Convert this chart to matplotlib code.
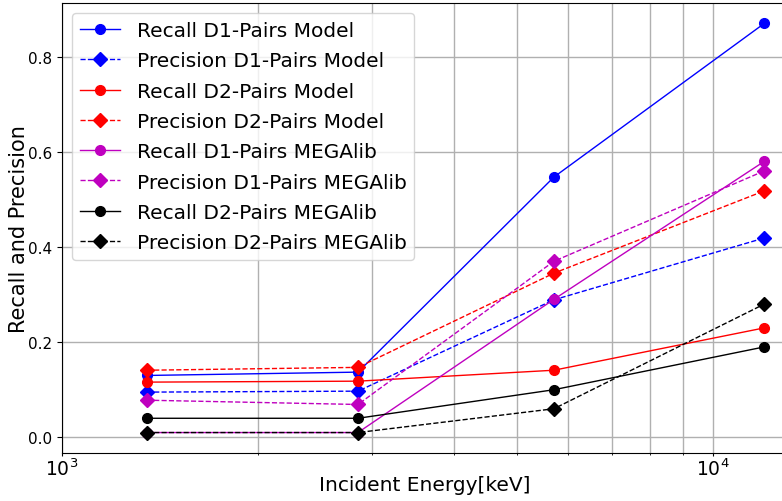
import numpy as np
import matplotlib
matplotlib.use("Agg")
import matplotlib.pyplot as plt

# incident energies (keV)
energy = [1350, 2850, 5700, 12000]

recall_d1_model = [0.130, 0.137, 0.547, 0.870]
precision_d1_model = [0.095, 0.097, 0.289, 0.419]
recall_d2_model = [0.116, 0.118, 0.141, 0.230]
precision_d2_model = [0.141, 0.147, 0.345, 0.518]
recall_d1_megalib = [0.010, 0.010, 0.290, 0.580]
precision_d1_megalib = [0.078, 0.069, 0.370, 0.560]
recall_d2_megalib = [0.040, 0.040, 0.100, 0.190]
precision_d2_megalib = [0.010, 0.010, 0.060, 0.280]

fig = plt.figure(figsize=(7.82, 5.02), dpi=100)
ax = fig.add_axes([62/782, 1 - 454/502, (795 - 62)/782, (454 - 4)/502])

ax.plot(energy, recall_d1_model, 'b-o', lw=1, ms=7, label='Recall D1-Pairs Model')
ax.plot(energy, precision_d1_model, 'b--D', lw=1, ms=7, label='Precision D1-Pairs Model')
ax.plot(energy, recall_d2_model, 'r-o', lw=1, ms=7, label='Recall D2-Pairs Model')
ax.plot(energy, precision_d2_model, 'r--D', lw=1, ms=7, label='Precision D2-Pairs Model')
ax.plot(energy, recall_d1_megalib, 'm-o', lw=1, ms=7, label='Recall D1-Pairs MEGAlib')
ax.plot(energy, precision_d1_megalib, 'm--D', lw=1, ms=7, label='Precision D1-Pairs MEGAlib')
ax.plot(energy, recall_d2_megalib, 'k-o', lw=1, ms=7, label='Recall D2-Pairs MEGAlib')
ax.plot(energy, precision_d2_megalib, 'k--D', lw=1, ms=7, label='Precision D2-Pairs MEGAlib')

ax.set_xscale('log')
ax.set_xlim(1000, 13380)
ax.set_ylim(-0.033, 0.913)
ax.grid(True, which='both', color='#b0b0b0', lw=1)
ax.set_xlabel('Incident Energy[keV]', fontsize=14.5)
ax.xaxis.set_label_coords(0.495, -0.05)
ax.set_ylabel('Recall and Precision', fontsize=15)
ax.yaxis.set_label_coords(-0.045, 0.5)
ax.tick_params(axis='x', which='major', labelsize=13.5, pad=1, length=2.5)
ax.tick_params(axis='x', which='minor', length=1.5)
ax.tick_params(axis='y', which='major', labelsize=11)
ax.legend(loc='upper left', fontsize=14.5, labelspacing=0.56)

fig.savefig('out.png', dpi=100)
